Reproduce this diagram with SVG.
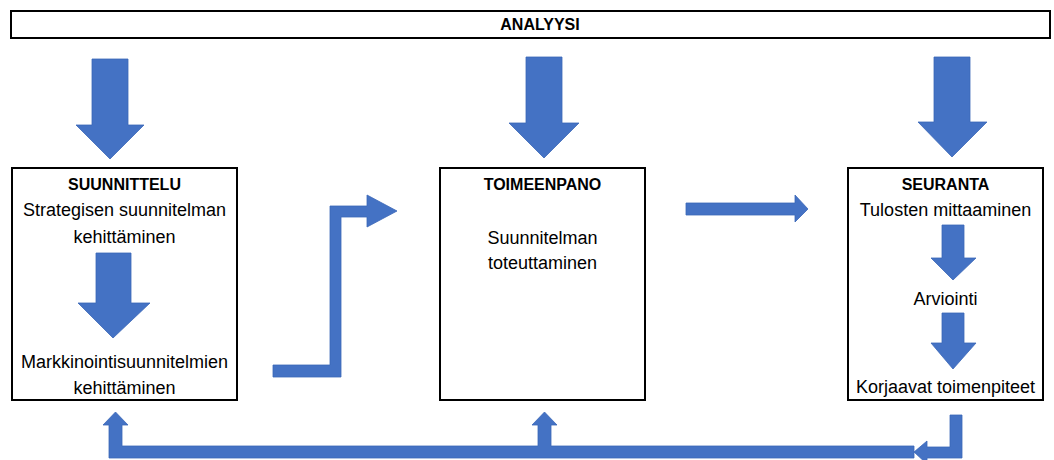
<svg xmlns="http://www.w3.org/2000/svg" width="1054" height="460" viewBox="0 0 1054 460">
  <style>
    .box { fill: #ffffff; stroke: #000000; stroke-width: 2; }
    .arr { fill: #4472C4; stroke: #3B67B8; stroke-width: 0.8; }
    .t { font-family: "Liberation Sans", Arial, sans-serif; font-size: 18px; fill: #000; text-anchor: middle; }
    .b { font-family: "Liberation Sans", Arial, sans-serif; font-size: 16px; font-weight: bold; fill: #000; text-anchor: middle; }
  </style>
  <rect width="1054" height="460" fill="#ffffff"/>

  <g id="analyysi">
    <rect class="box" x="11" y="11" width="1039" height="27"/>
    <text class="b" x="540" y="30" font-size="15.5">ANALYYSI</text>
  </g>

  <g id="suunnittelu">
    <rect class="box" x="12" y="168" width="225" height="232"/>
    <text class="b" x="124.5" y="190">SUUNNITTELU</text>
    <text class="t" x="124.5" y="216">Strategisen suunnitelman</text>
    <text class="t" x="124.5" y="243">kehittäminen</text>
    <path class="arr" d="M96,253 H131 V303 H150 L113,338 L78,303 H96 Z"/>
    <text class="t" x="124.5" y="368">Markkinointisuunnitelmien</text>
    <text class="t" x="124.5" y="394">kehittäminen</text>
  </g>

  <g id="toimeenpano">
    <rect class="box" x="440" y="168" width="205" height="232"/>
    <text class="b" x="542.5" y="190">TOIMEENPANO</text>
    <text class="t" x="542.5" y="244">Suunnitelman</text>
    <text class="t" x="542.5" y="269">toteuttaminen</text>
  </g>

  <g id="seuranta">
    <rect class="box" x="848" y="168" width="195" height="232"/>
    <text class="b" x="945.5" y="190">SEURANTA</text>
    <text class="t" x="945.5" y="216">Tulosten mittaaminen</text>
    <path class="arr" d="M942,225 H964 V258 H976 L953,280 L931,258 H942 Z"/>
    <text class="t" x="945.5" y="305">Arviointi</text>
    <path class="arr" d="M942,313 H964 V343 H976 L953,369 L931,343 H942 Z"/>
    <text class="t" x="945.5" y="393">Korjaavat toimenpiteet</text>
  </g>

  <g id="connectors">
    <!-- analyysi down arrows -->
    <path class="arr" d="M92,59 H128 V125 H144 L110,159 L76,125 H92 Z"/>
    <path class="arr" d="M526,57 H562 V123 H579 L544,158 L509,123 H526 Z"/>
    <path class="arr" d="M934,57 H970 V122 H987 L952,157 L918,122 H934 Z"/>
    <!-- suunnittelu -> toimeenpano -->
    <path class="arr" d="M273,365 H330 V206 H367 V195 L397,211 L367,227 V217 H341 V377 H273 Z"/>
    <!-- toimeenpano -> seuranta -->
    <path class="arr" d="M686,203 H795 V195 L808,209 L795,222 V215 H686 Z"/>
    <!-- feedback from seuranta -->
    <path class="arr" d="M950,415 H962 V458 H927 V464 L914,452 L927,441 V447 H950 Z"/>
    <path class="arr" d="M109,458 V425 H103 L115.5,412 L128,425 H122 V446 H538 V425 H532 L544.5,412 L557,425 H551 V446 H914 V458 Z"/>
  </g>
</svg>
